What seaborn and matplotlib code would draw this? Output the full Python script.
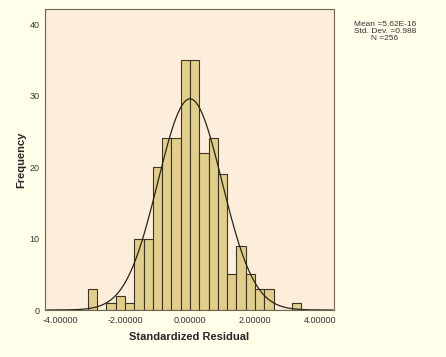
import numpy as np
import pandas as pd
import matplotlib
matplotlib.use("Agg")
import matplotlib.pyplot as plt
import seaborn as sns

# Histogramm-Daten
bin_width = 4 / 14
bin_index = list(range(-11, 12))
counts = [3, 0, 1, 2, 1, 10, 10, 20, 24, 24, 35, 35, 22, 24, 19, 5, 9, 5, 3, 3, 0, 0, 1]
mean_val = 5.62e-16
std_val = 0.988
n_total = 256
x_ticks = [-4, -2, 0, 2, 4]
x_ticklabels = ["-4.00000", "-2.00000", "0.00000", "2.00000", "4.00000"]
y_ticks = [0, 10, 20, 30, 40]

centers = (np.array(bin_index) + 0.5) * bin_width
df = pd.DataFrame({"resid": centers, "freq": counts})

sns.set_style("white")
plt.rcParams["font.family"] = ["Liberation Sans", "DejaVu Sans"]

fig = plt.figure(figsize=(4.46, 3.57), dpi=100, facecolor="#FFFFEA")
ax = fig.add_axes([45 / 446, 47 / 357, 289 / 446, 301 / 357])
ax.set_facecolor("#FDEEDC")

sns.histplot(data=df, x="resid", weights="freq", binwidth=bin_width,
             binrange=(bin_index[0] * bin_width, (bin_index[-1] + 1) * bin_width), ax=ax,
             color="#E0CE8A", alpha=1, edgecolor="#3C3524", linewidth=0.8)

# Normalverteilungskurve
xs = np.linspace(-4.4, 4.4, 300)
ys = n_total * bin_width * np.exp(-0.5 * ((xs - mean_val) / std_val) ** 2) / (std_val * np.sqrt(2 * np.pi))
sns.lineplot(x=xs, y=ys, ax=ax, color="#2A2418", linewidth=0.9)

ax.set_xlim(-4.46, 4.43)
ax.set_ylim(0, 42.1)
ax.set_xticks(x_ticks)
ax.set_xticklabels(x_ticklabels)
ax.set_yticks(y_ticks)
ax.tick_params(axis="both", labelsize=6.5, colors="#333333", length=3, width=0.6, pad=1)
ax.tick_params(axis="x", length=0, pad=4)
for s in ax.spines.values():
    s.set_color("#6E6452")
    s.set_linewidth(0.8)

ax.set_xlabel("Standardized Residual", fontsize=8, fontweight="bold", labelpad=5)
ax.set_ylabel("Frequency", fontsize=8, fontweight="bold", labelpad=2)

fig.text(385 / 446, 1 - 21 / 357,
         f"Mean =5.62E-16\nStd. Dev. ={std_val}\nN ={n_total}",
         ha="center", va="top", fontsize=6, color="#333333", linespacing=0.95)

fig.savefig("out.png", dpi=100, facecolor=fig.get_facecolor())
